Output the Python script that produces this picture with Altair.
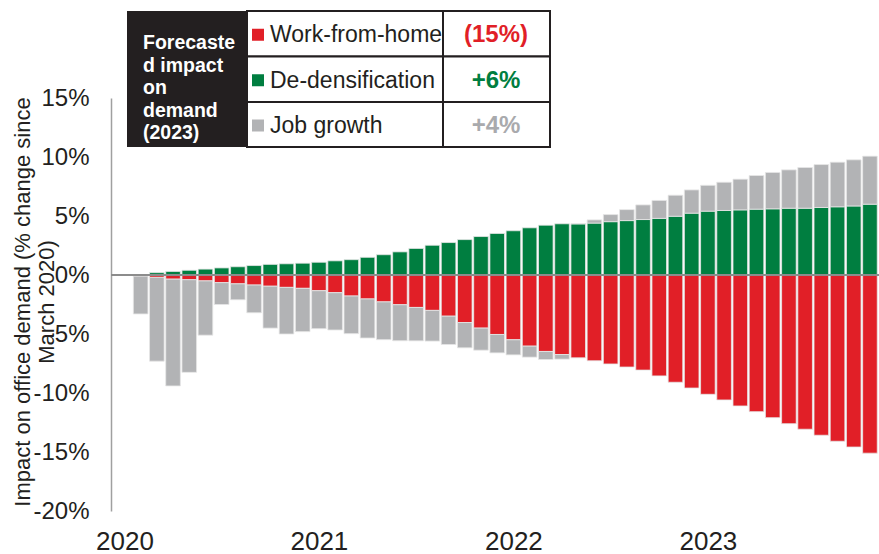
import altair as alt
import pandas as pd

# ---------------- data ----------------
months = [f"{y}-{m:02d}" for y in range(2020, 2024) for m in range(1, 13)][3:] + ["2024-01"]
green = [0.0, 0.2, 0.3, 0.4, 0.5, 0.6, 0.7, 0.8, 0.9, 0.95, 1.0, 1.08, 1.2, 1.3, 1.5, 1.72,
         1.96, 2.25, 2.52, 2.75, 3.0, 3.26, 3.52, 3.75, 4.0, 4.22, 4.34, 4.34, 4.4, 4.52,
         4.61, 4.7, 4.8, 4.98, 5.24, 5.41, 5.47, 5.52, 5.58, 5.61, 5.66, 5.66, 5.72, 5.78,
         5.85, 6.0]
red = [-0.1, -0.2, -0.35, -0.4, -0.5, -0.65, -0.75, -0.85, -0.95, -1.05, -1.13, -1.33, -1.5,
       -1.78, -2.03, -2.28, -2.52, -2.75, -3.0, -3.49, -4.03, -4.5, -5.04, -5.49, -6.03, -6.48,
       -6.74, -7.02, -7.27, -7.54, -7.8, -8.06, -8.55, -9.09, -9.58, -10.11, -10.59, -11.1,
       -11.58, -12.09, -12.6, -13.07, -13.58, -14.09, -14.58, -15.1]
gray = [-3.2, -7.1, -9.05, -7.85, -4.6, -1.85, -1.35, -2.35, -3.55, -3.95, -3.67, -3.22, -3.16,
        -3.19, -3.31, -3.2, -3.05, -2.83, -2.6, -2.4, -2.14, -1.87, -1.56, -1.28, -0.93, -0.68,
        -0.39, 0.0, 0.27, 0.6, 0.93, 1.24, 1.52, 1.78, 1.97, 2.19, 2.39, 2.6, 2.85, 3.08, 3.25,
        3.45, 3.64, 3.78, 3.91, 4.07]

series = ["Work-from-home", "De-densification", "Job growth"]
series_colors = ["#E11F27", "#007E40", "#B2B3B5"]
stack_order = {"De-densification": 0, "Work-from-home": 1, "Job growth": 2}
forecast_2023 = ["(15%)", "+6%", "+4%"]
forecast_colors = ["#E11F27", "#007E40", "#A9AAAD"]
year_labels = ["2020", "2021", "2022", "2023"]
box_lines = ["Forecaste", "d impact", "on", "demand", "(2023)"]
y_title = ["Impact on office demand (% change since", "March 2020)"]

rows = []
for i, m in enumerate(months):
    for s, vals in (("De-densification", green), ("Work-from-home", red), ("Job growth", gray)):
        rows.append({"idx": i, "month": m, "series": s, "value": vals[i], "ord": stack_order[s]})
df = pd.DataFrame(rows)

FONT = "Liberation Sans"
INK = "#231F20"

bars = alt.Chart(df).mark_bar(size=14.6, stroke="#e6e6e6", strokeWidth=0.8).encode(
    x=alt.X("idx:Q",
            scale=alt.Scale(domain=[-1.52, 45.25], nice=False, zero=False),
            axis=alt.Axis(values=[-1, 11, 23, 35],
                          labelExpr="'' + (2020 + floor((datum.value + 1) / 12))",
                          domain=False, ticks=False, grid=False, title=None,
                          labelFontSize=26, labelPadding=17, labelColor=INK, labelFont=FONT)),
    y=alt.Y("value:Q", stack="zero",
            scale=alt.Scale(domain=[-20, 15], nice=False),
            axis=alt.Axis(values=[-20, -15, -10, -5, 0, 5, 10, 15],
                          labelExpr="datum.value + '%'",
                          grid=False, ticks=False, title=None,
                          domainColor="#a0a0a0", domainWidth=1.5,
                          labelFontSize=24, labelPadding=22, labelColor=INK, labelFont=FONT)),
    color=alt.Color("series:N", scale=alt.Scale(domain=series, range=series_colors), legend=None),
    order=alt.Order("ord:Q"),
)

zero = alt.Chart(pd.DataFrame({"z": [0]})).mark_rule(color="#8c8c8c", strokeWidth=2).encode(y="z:Q")

layers = [bars, zero]
one = pd.DataFrame({"a": [0]})

# y-axis title (two rotated lines)
for k, (line, xp) in enumerate(zip(y_title, [-88, -64])):
    layers.append(alt.Chart(one).mark_text(angle=270, align="center", baseline="middle",
                                          font=FONT, fontSize=22, color=INK).encode(
        x=alt.value(xp), y=alt.value(204), text=alt.value(line)))

# forecast table
layers.append(alt.Chart(one).mark_rect(color=INK).encode(
    x=alt.value(16), x2=alt.value(136), y=alt.value(-87), y2=alt.value(49)))
row_top = [-87, -41.5, 4]
row_bot = [-41.5, 4, 49]
for r in range(3):
    for (xa, xb) in ((136, 332), (332, 439)):
        layers.append(alt.Chart(one).mark_rect(fill="white", stroke=INK, strokeWidth=2).encode(
            x=alt.value(xa), x2=alt.value(xb), y=alt.value(row_top[r]), y2=alt.value(row_bot[r])))
for r in range(3):
    yc = (row_top[r] + row_bot[r]) / 2
    layers.append(alt.Chart(one).mark_rect(color=series_colors[r]).encode(
        x=alt.value(141), x2=alt.value(153), y=alt.value(yc - 5), y2=alt.value(yc + 7)))
    layers.append(alt.Chart(one).mark_text(align="left", baseline="alphabetic", font=FONT,
                                          fontSize=23, color=INK).encode(
        x=alt.value(159), y=alt.value(yc + 8.5), text=alt.value(series[r])))
    layers.append(alt.Chart(one).mark_text(align="center", baseline="alphabetic", font=FONT,
                                          fontSize=24, fontWeight="bold",
                                          color=forecast_colors[r]).encode(
        x=alt.value(385), y=alt.value(yc + 8.5), text=alt.value(forecast_2023[r])))
for k, line in enumerate(box_lines):
    layers.append(alt.Chart(one).mark_text(align="left", baseline="alphabetic", font=FONT,
                                          fontSize=19.5, fontWeight="bold", color="white").encode(
        x=alt.value(32), y=alt.value(-48.7 + 22.5 * k), text=alt.value(line)))

chart = alt.layer(*layers).properties(
    width=768, height=413,
    padding={"left": 111, "top": 98, "right": 0, "bottom": 43},
    autosize=alt.AutoSizeParams(type="none"),
    background="white",
).configure_view(stroke=None)

chart.save("out.html", embed_options={"renderer": "svg", "actions": False})
